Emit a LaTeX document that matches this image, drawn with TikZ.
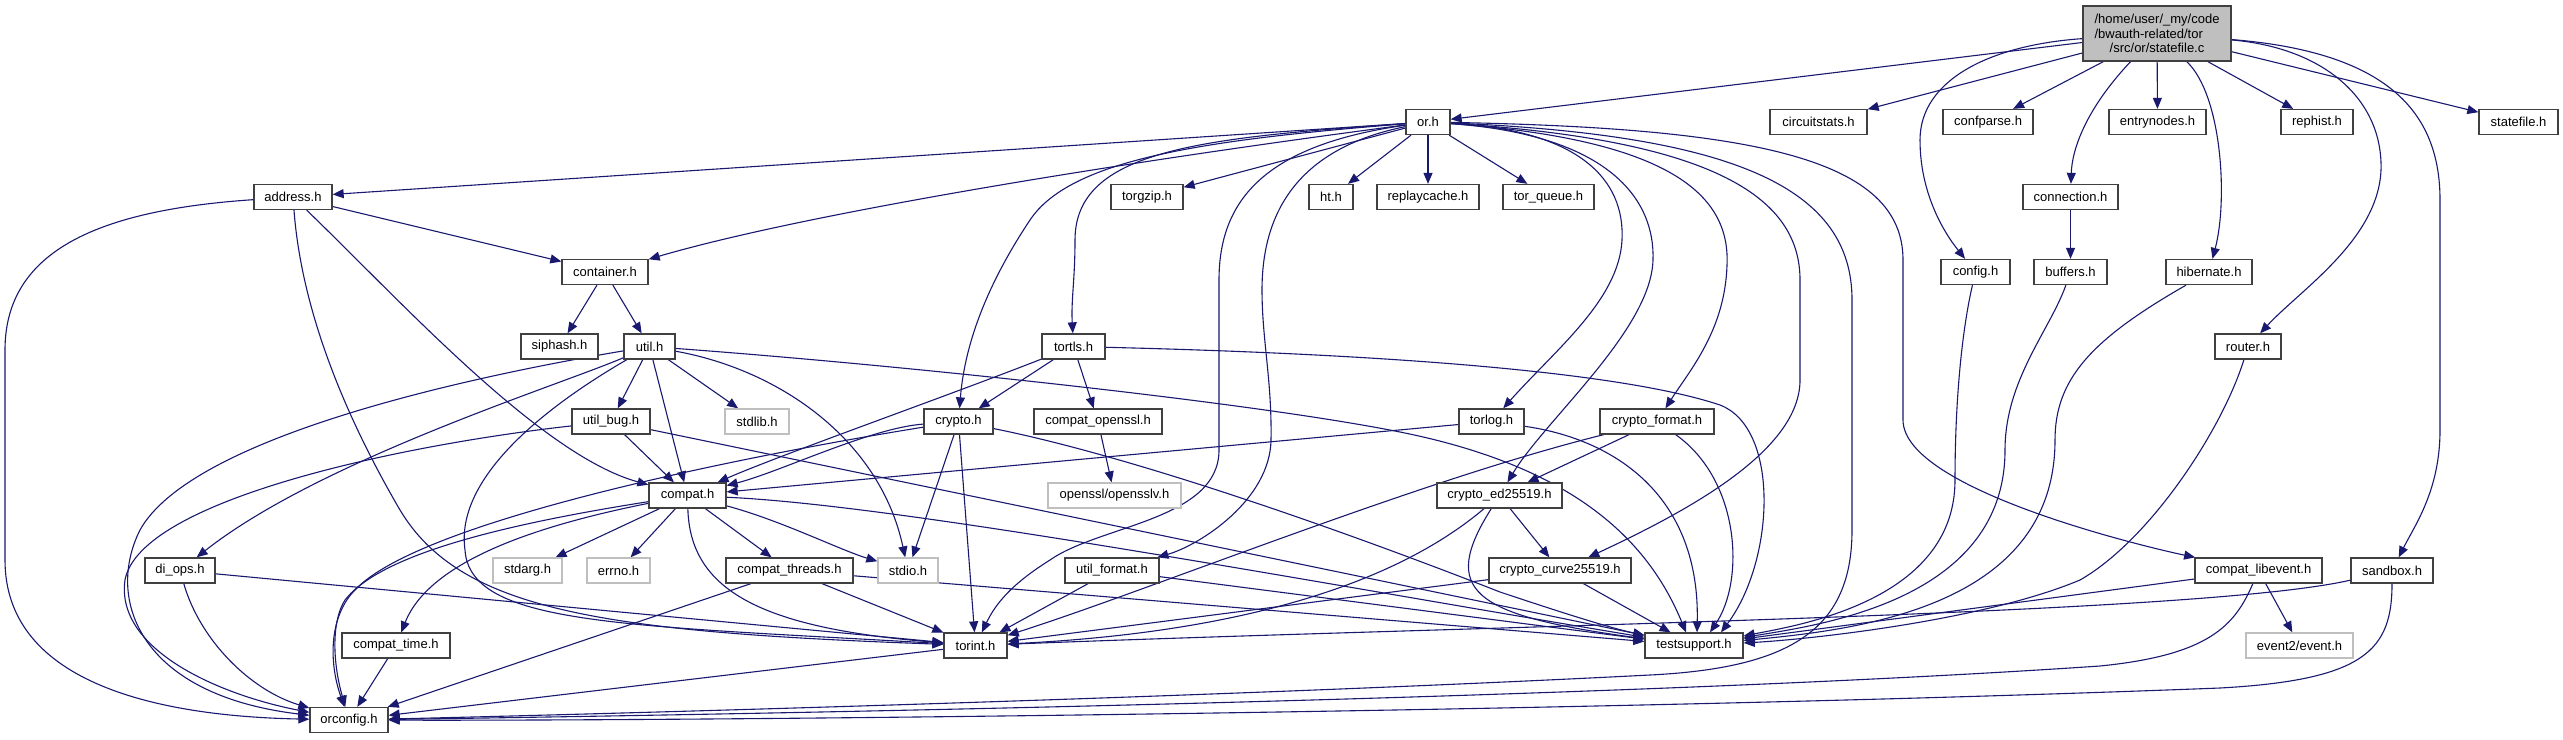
\documentclass[tikz,border=0pt]{standalone}
\usepackage{fontspec}
\setmainfont{Liberation Sans}
\usetikzlibrary{arrows.meta}
\definecolor{edgeblue}{HTML}{191970}
\definecolor{sysgray}{HTML}{BFBFBF}
\pgfdeclarelayer{bglayer}
\pgfdeclarelayer{edgelayer}
\pgfsetlayers{bglayer,edgelayer,main}
\begin{document}
\begin{tikzpicture}[x=1pt,y=-1pt,
  hbox/.style={draw=black!75, line width=1.3pt, fill=white, inner sep=0pt,
    minimum height=25pt, font=\fontsize{13}{14.5}\selectfont},
  sysbox/.style={hbox, draw=sysgray},
  rootbox/.style={hbox, fill=sysgray},
  e/.style={draw=edgeblue, line width=1.1pt, -{Triangle[length=11pt,width=9pt]}},
]
\begin{pgfonlayer}{bglayer}
\fill[white] (0,0) rectangle (2563,739);
\end{pgfonlayer}
\useasboundingbox (0,0) rectangle (2563,739);

% ---------- nodes ----------
\node[rootbox, minimum width=148pt, minimum height=55pt, align=center] (main) at (2157,33.5)
  {/home/user/\_my/code\\\makebox[125pt][l]{/bwauth-related/tor}\\/src/or/statefile.c};
% row 1
\node[hbox, minimum width=44pt] (orh) at (1428,122) {or.h};
\node[hbox, minimum width=97pt] (circuitstats) at (1818.5,122) {circuitstats.h};
\node[hbox, minimum width=90pt] (confparse) at (1988,122) {confparse.h};
\node[hbox, minimum width=97pt] (entrynodes) at (2157.5,122) {entrynodes.h};
\node[hbox, minimum width=72pt] (rephist) at (2317,122) {rephist.h};
\node[hbox, minimum width=79pt] (statefileh) at (2518.5,122) {statefile.h};
% row 2
\node[hbox, minimum width=78pt] (address) at (293,197) {address.h};
\node[hbox, minimum width=72pt] (torgzip) at (1147,197) {torgzip.h};
\node[hbox, minimum width=44pt] (ht) at (1331,197) {ht.h};
\node[hbox, minimum width=102pt] (replaycache) at (1428,197) {replaycache.h};
\node[hbox, minimum width=91pt] (torqueue) at (1548.5,197) {tor\_queue.h};
\node[hbox, minimum width=95pt] (connection) at (2070.5,197) {connection.h};
% row 3
\node[hbox, minimum width=86pt] (container) at (605,272) {container.h};
\node[hbox, minimum width=69pt] (config) at (1975.5,272) {config.h};
\node[hbox, minimum width=73pt] (buffers) at (2070.5,272) {buffers.h};
\node[hbox, minimum width=86pt] (hibernate) at (2209,272) {hibernate.h};
% row 4
\node[hbox, minimum width=77pt] (siphash) at (559.5,346.5) {siphash.h};
\node[hbox, minimum width=51pt] (util) at (649.5,346.5) {util.h};
\node[hbox, minimum width=63pt] (tortls) at (1073.5,346.5) {tortls.h};
\node[hbox, minimum width=66pt] (router) at (2248,346.5) {router.h};
% row 5
\node[hbox, minimum width=78pt] (utilbug) at (611,421.5) {util\_bug.h};
\node[sysbox, minimum width=64pt] (stdlib) at (757,421.5) {stdlib.h};
\node[hbox, minimum width=69pt] (crypto) at (958.5,421.5) {crypto.h};
\node[hbox, minimum width=128pt] (compatopenssl) at (1098,421.5) {compat\_openssl.h};
\node[hbox, minimum width=65pt] (torlog) at (1491.5,421.5) {torlog.h};
\node[hbox, minimum width=114pt] (cryptofmt) at (1657,421.5) {crypto\_format.h};
% row 6
\node[hbox, minimum width=77pt] (compat) at (687.5,495.5) {compat.h};
\node[sysbox, minimum width=133pt] (opensslv) at (1114.5,495.5) {openssl/opensslv.h};
\node[hbox, minimum width=125pt] (cryptoed) at (1499.5,495.5) {crypto\_ed25519.h};
% row 7
\node[hbox, minimum width=70pt] (diops) at (180,570.5) {di\_ops.h};
\node[sysbox, minimum width=69pt] (stdarg) at (527.5,570.5) {stdarg.h};
\node[sysbox, minimum width=63pt] (errno) at (618.5,570.5) {errno.h};
\node[hbox, minimum width=127pt] (compatthreads) at (789.5,570.5) {compat\_threads.h};
\node[sysbox, minimum width=60pt] (stdio) at (908,570.5) {stdio.h};
\node[hbox, minimum width=94pt] (utilformat) at (1112,570.5) {util\_format.h};
\node[hbox, minimum width=142pt] (cryptocurve) at (1560,570.5) {crypto\_curve25519.h};
\node[hbox, minimum width=127pt] (complibevent) at (2258.5,570.5) {compat\_libevent.h};
\node[hbox, minimum width=82pt] (sandbox) at (2392,570.5) {sandbox.h};
% row 8
\node[hbox, minimum width=108pt] (comptime) at (396,645.5) {compat\_time.h};
\node[hbox, minimum width=63pt] (torint) at (975.5,645.5) {torint.h};
\node[hbox, minimum width=98pt] (testsupport) at (1694,645.5) {testsupport.h};
\node[sysbox, minimum width=107pt] (event) at (2299.5,645.5) {event2/event.h};
% row 9
\node[hbox, minimum width=78pt] (orconfig) at (349,720) {orconfig.h};

% ---------- edges ----------
\begin{pgfonlayer}{edgelayer}
% statefile.c
\draw[e] (main) -- (orh);
\draw[e] (main) -- (circuitstats);
\draw[e] (main) -- (confparse);
\draw[e] (main) -- (entrynodes);
\draw[e] (main) -- (rephist);
\draw[e] (main) -- (statefileh);
\draw[e] (main) .. controls (2085,110) and (2072,150) .. (connection);
\draw[e] (main) .. controls (1990,45) and (1920,80) .. (1920,140) .. controls (1920,200) and (1950,240) .. (config);
\draw[e] (main) .. controls (2222,95) and (2228,200) .. (hibernate);
\draw[e] (main) .. controls (2325,48) and (2383,100) .. (2381,170) .. controls (2378,240) and (2300,290) .. (router);
\draw[e] (main) .. controls (2385,52) and (2440,110) .. (2440,200) -- (2440,430) .. controls (2440,490) and (2415,525) .. (sandbox);
% or.h
\draw[e] (orh) -- (address);
\draw[e] (orh) .. controls (1100,165) and (800,215) .. (container);
\draw[e] (orh) -- (torgzip);
\draw[e] (orh) -- (ht);
\draw[e] (orh) -- (replaycache);
\draw[e] (orh) -- (torqueue);
\draw[e] (orh) .. controls (1200,138) and (1075,150) .. (1075,240) .. controls (1075,280) and (1071,300) .. (tortls);
\draw[e] (orh) .. controls (1200,140) and (1070,160) .. (1030,220) .. controls (990,280) and (965,340) .. (crypto);
\draw[e] (orh) .. controls (1265,145) and (1219,200) .. (1219,280) -- (1219,450) .. controls (1219,520) and (1100,525) .. (1050,560) .. controls (1010,585) and (995,605) .. (torint);
\draw[e] (orh) .. controls (1300,148) and (1262,210) .. (1262,290) .. controls (1262,340) and (1272,380) .. (1271,440) .. controls (1270,500) and (1200,545) .. (utilformat);
\draw[e] (orh) .. controls (1580,130) and (1625,180) .. (1622,240) .. controls (1619,300) and (1555,350) .. (torlog);
\draw[e] (orh) .. controls (1610,135) and (1655,200) .. (1653,260) .. controls (1651,330) and (1545,420) .. (cryptoed);
\draw[e] (orh) .. controls (1680,140) and (1730,200) .. (1727,265) .. controls (1725,330) and (1690,370) .. (cryptofmt);
\draw[e] (orh) .. controls (1720,140) and (1800,200) .. (1800,280) -- (1800,380) .. controls (1800,450) and (1690,510) .. (cryptocurve);
\draw[e] (orh) .. controls (1740,135) and (1852,190) .. (1852,300) -- (1852,530) .. controls (1852,630) and (1790,668) .. (1650,675) .. controls (1200,698) and (600,714) .. (orconfig);
\draw[e] (orh) .. controls (1760,128) and (1903,160) .. (1903,260) -- (1903,420) .. controls (1903,490) and (2150,548) .. (complibevent);
% address.h
\draw[e] (address) -- (container);
\draw[e] (address) .. controls (100,210) and (5,250) .. (5,350) -- (5,560) .. controls (5,680) and (150,716) .. (orconfig);
\draw[e] (address) .. controls (300,290) and (330,390) .. (400,510) .. controls (460,610) and (600,632) .. (torint);
\draw[e] (address) .. controls (400,300) and (540,455) .. (compat);
% container.h
\draw[e] (container) -- (siphash);
\draw[e] (container) -- (util);
% util.h
\draw[e] (util) -- (utilbug);
\draw[e] (util) -- (stdlib);
\draw[e] (util) -- (compat);
\draw[e] (util) .. controls (450,380) and (190,440) .. (140,530) .. controls (105,600) and (140,695) .. (orconfig);
\draw[e] (util) .. controls (560,385) and (320,460) .. (diops);
\draw[e] (util) .. controls (540,410) and (455,480) .. (465,550) .. controls (470,625) and (620,625) .. (torint);
\draw[e] (util) .. controls (780,370) and (880,440) .. (stdio);
\draw[e] (util) .. controls (900,365) and (1250,402) .. (1400,432) .. controls (1580,468) and (1650,545) .. ([xshift=-8pt]testsupport.north);
% util_bug.h
\draw[e] (utilbug) -- (compat);
\draw[e] (utilbug) .. controls (400,445) and (140,500) .. (125,580) .. controls (115,650) and (220,695) .. (orconfig);
\draw[e] (utilbug) -- (testsupport);
% compat.h
\draw[e] (compat) .. controls (500,525) and (380,555) .. (345,600) .. controls (332,620) and (332,660) .. (orconfig);
\draw[e] (compat) .. controls (540,525) and (430,560) .. (comptime);
\draw[e] (compat) -- (stdarg);
\draw[e] (compat) -- (errno);
\draw[e] (compat) -- (compatthreads);
\draw[e] (compat) .. controls (690,590) and (760,628) .. (torint);
\draw[e] (compat) .. controls (780,520) and (840,550) .. (stdio);
\draw[e] (compat) .. controls (900,505) and (1300,580) .. (testsupport);
% di_ops.h
\draw[e] (diops) -- (torint);
\draw[e] (diops) .. controls (200,640) and (250,690) .. (orconfig);
% compat_threads.h
\draw[e] (compatthreads) -- (orconfig);
\draw[e] (compatthreads) -- (torint);
\draw[e] (compatthreads) -- (testsupport);
% compat_time.h, torint.h
\draw[e] (comptime) -- (orconfig);
\draw[e] (torint) -- (orconfig);
% crypto.h
\draw[e] (crypto) .. controls (870,428) and (780,472) .. (compat);
\draw[e] (crypto) .. controls (750,455) and (420,520) .. (355,590) .. controls (330,615) and (328,660) .. (orconfig);
\draw[e] (crypto) -- (stdio);
\draw[e] (crypto) -- (torint);
\draw[e] (crypto) .. controls (1150,460) and (1380,545) .. (1500,592) .. controls (1560,612) and (1610,628) .. (testsupport);
% tortls.h
\draw[e] (tortls) -- (crypto);
\draw[e] (tortls) -- (compatopenssl);
\draw[e] (tortls) .. controls (950,395) and (780,455) .. (compat);
\draw[e] (tortls) .. controls (1300,352) and (1600,365) .. (1720,405) .. controls (1780,428) and (1775,560) .. ([xshift=27pt]testsupport.north);
% compat_openssl.h
\draw[e] (compatopenssl) -- (opensslv);
% torlog.h
\draw[e] (torlog) -- (compat);
\draw[e] (torlog) .. controls (1620,440) and (1700,500) .. ([xshift=3pt]testsupport.north);
% crypto_format.h
\draw[e] (cryptofmt) -- (cryptoed);
\draw[e] (cryptofmt) .. controls (1420,480) and (1150,590) .. (torint);
\draw[e] (cryptofmt) .. controls (1740,480) and (1745,580) .. ([xshift=16pt]testsupport.north);
% crypto_ed25519.h
\draw[e] (cryptoed) -- (cryptocurve);
\draw[e] (cryptoed) .. controls (1400,580) and (1250,632) .. (torint);
\draw[e] (cryptoed) .. controls (1440,590) and (1470,615) .. (testsupport);
% crypto_curve25519.h
\draw[e] (cryptocurve) -- (testsupport);
\draw[e] (cryptocurve) -- (torint);
% util_format.h
\draw[e] (utilformat) -- (torint);
\draw[e] (utilformat) -- (testsupport);
% config.h, buffers.h, hibernate.h, connection.h, router.h
\draw[e] (config) .. controls (1962,330) and (1955,400) .. (1955,480) .. controls (1955,600) and (1800,625) .. (testsupport);
\draw[e] (buffers) .. controls (2050,330) and (2005,380) .. (2005,450) .. controls (2005,600) and (1820,625) .. (testsupport);
\draw[e] (hibernate) .. controls (2090,340) and (2055,380) .. (2055,440) .. controls (2055,610) and (1850,630) .. (testsupport);
\draw[e] (connection) -- (buffers);
\draw[e] (router) .. controls (2222,430) and (2150,540) .. (2080,580) .. controls (1980,622) and (1800,640) .. (testsupport);
% compat_libevent.h
\draw[e] (complibevent) -- (testsupport);
\draw[e] (complibevent) -- (event);
\draw[e] (complibevent) .. controls (2235,625) and (2210,655) .. (2100,666) .. controls (1600,700) and (700,715) .. (orconfig);
% sandbox.h
\draw[e] (sandbox) .. controls (2200,615) and (1500,625) .. (torint);
\draw[e] (sandbox) .. controls (2392,650) and (2365,680) .. (2220,688) .. controls (1600,712) and (700,721) .. (orconfig);
\end{pgfonlayer}
\end{tikzpicture}
\end{document}
